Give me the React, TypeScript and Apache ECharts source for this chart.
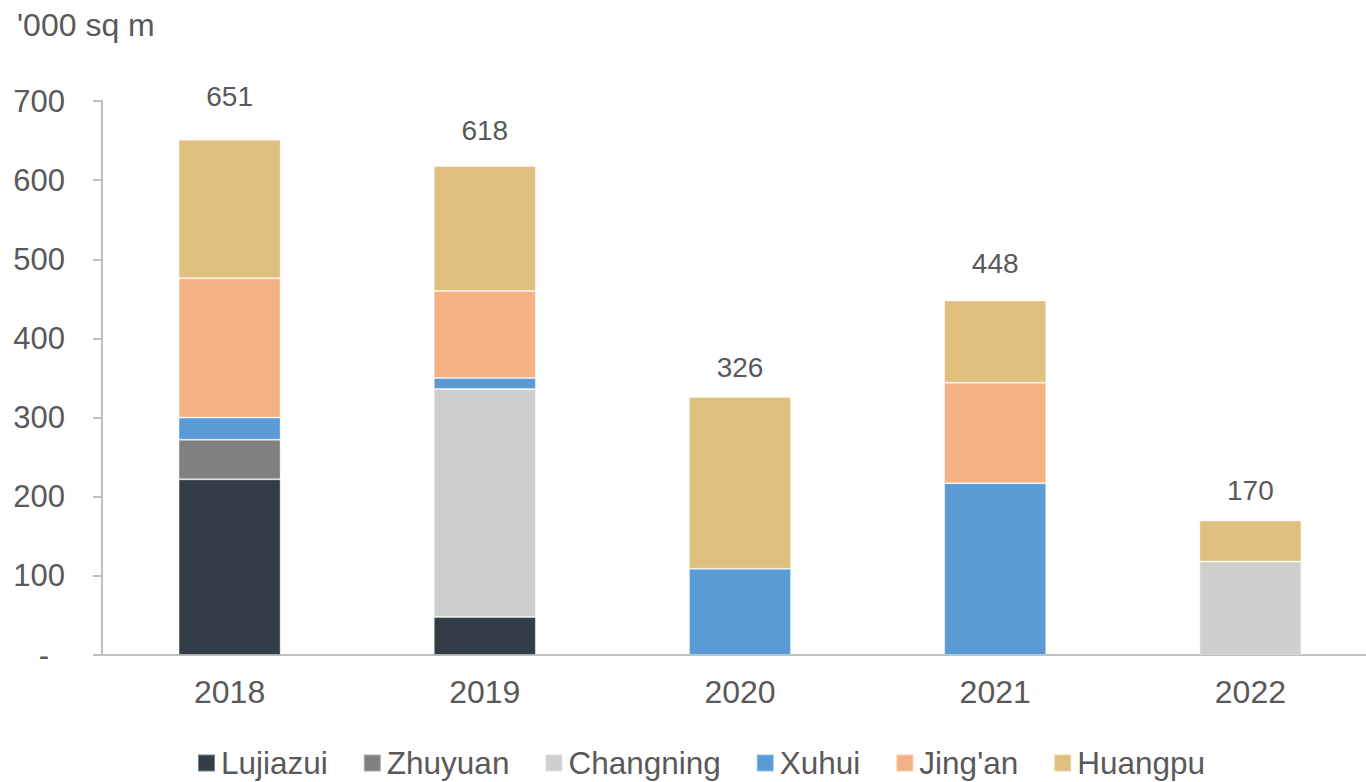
import React, { useEffect, useRef } from "react";
import * as echarts from "echarts";

const years = ["2018", "2019", "2020", "2021", "2022"];
const lujiazui = [222, 48, 0, 0, 0];
const zhuyuan = [50, 0, 0, 0, 0];
const changning = [0, 288, 0, 0, 118];
const xuhui = [28, 14, 109, 217, 0];
const jingan = [176, 110, 0, 127, 0];
const huangpu = [175, 158, 217, 104, 52];
const totals = [651, 618, 326, 448, 170];
const totalLabelDistance = [29, 21, 15, 23, 16];

const seriesNames = ["Lujiazui", "Zhuyuan", "Changning", "Xuhui", "Jing'an", "Huangpu"];
const seriesColors = ["#333D47", "#808080", "#D0CECE", "#5B9BD5", "#F4B183", "#DFC07E"];
const seriesData = [lujiazui, zhuyuan, changning, xuhui, jingan, huangpu];

const FONT = "'Liberation Sans', Arial, sans-serif";
const TEXT = "#595959";

export default function App() {
  const ref = useRef<HTMLDivElement>(null);
  useEffect(() => {
    if (!ref.current) return;
    const chart = echarts.init(ref.current, null, { renderer: "svg" });
    const last = seriesNames.length - 1;
    const series = seriesNames.map((name, i) => ({
      name,
      type: "bar",
      stack: "total",
      barWidth: "40%",
      data: seriesData[i].map((v, j) => {
        if (v === 0) return null;
        if (i === last) return { value: v, label: { distance: totalLabelDistance[j] } };
        return v;
      }),
      itemStyle: {
        color: seriesColors[i],
        borderColor: "rgba(255,255,255,0.35)",
        borderWidth: 1,
      },
      label:
        i === last
          ? {
              show: true,
              position: "top",
              formatter: (p: any) => String(totals[p.dataIndex]),
              fontSize: 28,
              color: TEXT,
              fontFamily: FONT,
            }
          : { show: false },
    }));
    chart.setOption({
      animation: false,
      textStyle: { fontFamily: FONT },
      graphic: [
        {
          type: "text",
          left: 17,
          top: 9,
          style: { text: "'000 sq m", fontSize: 32, fill: TEXT, fontFamily: FONT },
        },
      ],
      legend: {
        top: 747,
        left: 197,
        padding: 0,
        itemWidth: 17,
        itemHeight: 17,
        itemGap: 35,
        icon: "rect",
        textStyle: { fontSize: 31.5, color: TEXT, fontFamily: FONT, padding: [0, 0, 0, 1] },
        data: seriesNames,
      },
      grid: { left: 102, right: 0, top: 101, bottom: 127 },
      xAxis: {
        type: "category",
        data: years,
        axisLine: { show: true, lineStyle: { color: "#BFBFBF", width: 2 } },
        axisTick: { show: false },
        axisLabel: { fontSize: 32, color: TEXT, margin: 21, fontFamily: FONT },
      },
      yAxis: {
        type: "value",
        min: 0,
        max: 700,
        interval: 100,
        axisLine: { show: true, lineStyle: { color: "#BFBFBF", width: 2 } },
        axisTick: { show: true, inside: false, length: 9, lineStyle: { color: "#BFBFBF", width: 2 } },
        splitLine: { show: false },
        axisLabel: {
          fontSize: 31,
          color: TEXT,
          margin: 37,
          fontFamily: FONT,
          formatter: (v: number) => (v === 0 ? "{d|-}" : String(v)),
          rich: { d: { fontSize: 31, color: TEXT, padding: [0, 16, 0, 0] } },
        },
      },
      series,
    });
    return () => chart.dispose();
  }, []);
  return (
    <div style={{ position: "fixed", left: 0, top: 0, width: 1366, height: 782, overflow: "hidden", background: "#fff" }}>
      <div ref={ref} style={{ position: "absolute", left: 0, top: 0, width: 1378, height: 782 }} />
    </div>
  );
}
